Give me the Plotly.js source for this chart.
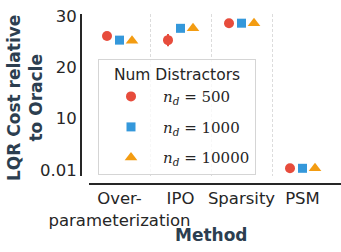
<!DOCTYPE html>
<html>
<head>
<meta charset="utf-8">
<script src="https://cdn.plot.ly/plotly-3.0.1.min.js"></script>
<style>html,body{margin:0;padding:0;background:#fff;}#chart{width:341px;height:252px;}</style>
</head>
<body>
<div id="chart"></div>
<script>
// ---- data ----
const methods = ["Over-<br>parameterization", "IPO", "Sparsity", "PSM"];
const seriesNames = ["<i>n<sub>d</sub></i> = 500", "<i>n<sub>d</sub></i> = 1000", "<i>n<sub>d</sub></i> = 10000"];
const costNd500 = [26.1, 25.3, 28.6, 0.33];
const costNd1000 = [25.3, 27.6, 28.6, 0.33];
const costNd10000 = [25.2, 27.6, 28.6, 0.33];
const errNd500 = [0.3, 1.2, 0.15, 0.05];
const errNd1000 = [0.2, 0.3, 0.15, 0.05];
const errNd10000 = [0.2, 0.3, 0.15, 0.05];
const yTickVals = [0.01, 10, 20, 30];
const yTickText = ["0.01", "10", "20", "30"];
const xTitle = "Method";
const yTitle = "LQR Cost relative<br>to Oracle";
const legendTitle = "Num Distractors";

// ---- styling ----
const colors = ["#e74c3c", "#3498db", "#f39c12"];
const symbols = ["circle", "square", "triangle-up"];
const sizes = [10, 9, 11];
const dodge = [-0.205, 0, 0.205];
const values = [costNd500, costNd1000, costNd10000];
const errs = [errNd500, errNd1000, errNd10000];

const W = 341, H = 252;
const traces = values.map((vals, s) => ({
  type: "scatter",
  mode: "markers",
  name: seriesNames[s],
  legendgroup: "g" + s,
  x: methods.map((_, i) => i + dodge[s]),
  y: vals,
  error_y: {type: "data", array: errs[s], visible: true, color: colors[s], thickness: 2, width: 0},
  marker: {color: colors[s], symbol: symbols[s], size: sizes[s], line: {width: 0}},
}));

const titleFont = {size: 17, color: "#2c3e50", family: "DejaVu Sans", weight: "bold"};
const layout = {
  width: W, height: H,
  margin: {l: 0, r: 0, t: 0, b: 0},
  paper_bgcolor: "#fff", plot_bgcolor: "rgba(0,0,0,0)",
  font: {family: "DejaVu Sans", color: "#262626", size: 16.5},
  showlegend: true,
  xaxis: {
    domain: [89 / W, 1],
    range: [-0.5, -0.5 + 252 / 61],
    anchor: "free", position: 1 - 183 / H,
    tickmode: "array",
    tickvals: methods.map((_, i) => i),
    ticktext: methods,
    tickangle: 0,
    tickfont: {size: 16.5, color: "#262626"},
    showline: true, linecolor: "#262626", linewidth: 1.6,
    ticks: "", showgrid: false, zeroline: false,
    minor: {tickvals: methods.map((_, i) => i - 0.5), showgrid: true, gridcolor: "#dcdcdc", gridwidth: 1, griddash: "3px,2px", ticks: ""},
  },
  yaxis: {
    domain: [1 - 176 / H, 1 - 14 / H],
    range: [-1.17, 30.39],
    anchor: "free", position: 80 / W,
    tickmode: "array", tickvals: yTickVals, ticktext: yTickText,
    tickfont: {size: 16.5, color: "#262626"},
    showline: true, linecolor: "#262626", linewidth: 1.6,
    ticks: "", showgrid: false, zeroline: false,
  },
  annotations: [
    {text: "<b>" + xTitle + "</b>", xref: "paper", yref: "paper", x: 211 / W, y: 1 - 235 / H,
     xanchor: "center", yanchor: "middle", showarrow: false, font: titleFont},
    {text: "<b>" + yTitle.replace("<br>", "</b><br><b>") + "</b>", xref: "paper", yref: "paper", x: 25 / W, y: 1 - 98 / H,
     xanchor: "center", yanchor: "middle", textangle: -90, showarrow: false, font: titleFont},
  ],
  legend: {
    x: 98 / W, xanchor: "left", y: 1 - 59 / H, yanchor: "top",
    bgcolor: "rgba(255,255,255,0.8)", bordercolor: "#d5d5d5", borderwidth: 1,
    font: {family: "DejaVu Serif", size: 15, color: "#262626"},
    title: {text: legendTitle, side: "top center", font: {family: "DejaVu Sans", size: 15.5, color: "#262626"}},
    traceorder: "grouped", tracegroupgap: 8, itemwidth: 54,
  },
};

Plotly.newPlot("chart", traces, layout, {displayModeBar: false, staticPlot: true});
</script>
</body>
</html>
